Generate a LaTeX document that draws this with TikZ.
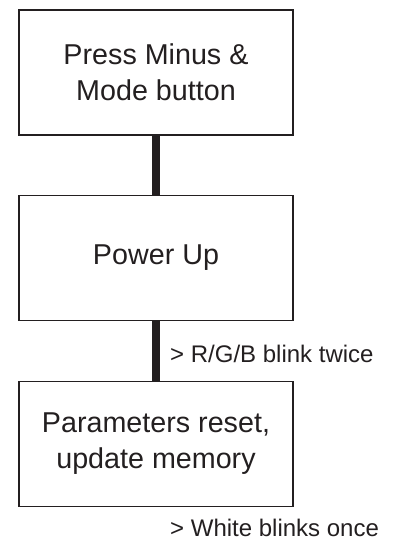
\documentclass[tikz,border=0pt]{standalone}
\usepackage{fontspec}
\setmainfont{Liberation Sans}
\definecolor{ink}{HTML}{231F20}
\begin{document}
\begin{tikzpicture}[x=1pt,y=1pt,
  stepbox/.style={draw=ink, line width=1.1pt, minimum width=274pt, minimum height=125pt, inner sep=0pt, align=center, text=ink, font=\fontsize{28.7}{36}\selectfont},
  conn/.style={draw=ink, line width=8pt},
  lbl/.style={anchor=base west, inner sep=0pt, text=ink, font=\fontsize{24}{28}\selectfont}]
\useasboundingbox (0,0) rectangle (393,-550);
\node[stepbox] (b1) at (156,-72.5) {Press Minus \&\\Mode button};
\node[stepbox] (b2) at (156,-258) {Power Up};
\node[stepbox] (b3) at (156,-444) {Parameters reset,\\update memory};
\draw[conn] (b1.south) -- (b2.north);
\draw[conn] (b2.south) -- (b3.north);
\node[lbl] (l1) at (170,-362.5) {> R/G/B blink twice};
\node[lbl] (l2) at (170,-536) {> White blinks once};
\end{tikzpicture}
\end{document}
